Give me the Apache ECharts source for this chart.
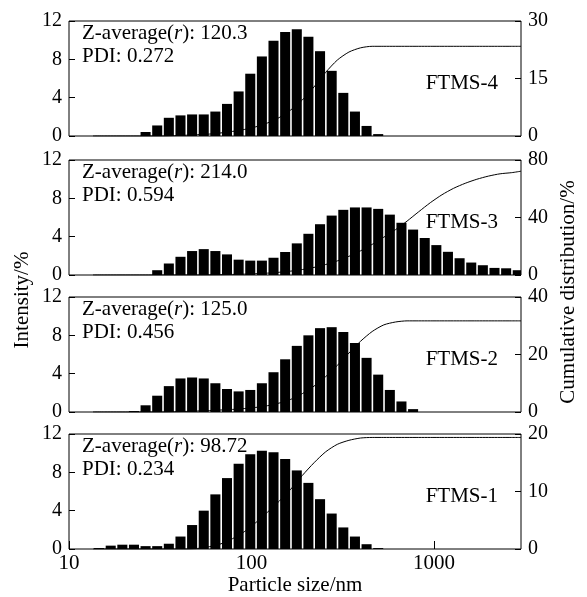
<!DOCTYPE html>
<html>
<head>
<meta charset="utf-8">
<script src="https://cdn.jsdelivr.net/npm/echarts@6/dist/echarts.min.js"></script>
<style>
  html, body { margin: 0; padding: 0; background: #fff; }
  #chart { width: 587px; height: 597px; }
</style>
</head>
<body>
<div id="chart"></div>
<script>
// ---- data ----
// bin sizes (nm), intensity bins of the DLS instrument
const sizes = [13.54, 15.69, 18.17, 21.04, 24.36, 28.21, 32.67, 37.84, 43.82, 50.75,
               58.77, 68.06, 78.82, 91.28, 105.7, 122.4, 141.8, 164.2, 190.1, 220.2,
               255.0, 295.3, 342.0, 396.1, 458.7, 531.2, 615.1, 712.4, 825.0, 955.4,
               1106, 1281, 1484, 1718, 1990, 2305, 2669];
// x positions of the cumulative curves (bins + right end of the axis)
const cumX = sizes.concat([3000]);

const samples = ['FTMS-4', 'FTMS-3', 'FTMS-2', 'FTMS-1'];
const zAverage = ['120.3', '214.0', '125.0', '98.72'];
const pdi = ['0.272', '0.594', '0.456', '0.234'];

const intensity4 = [0, 0, 0, 0, 0.42, 1.1, 1.9, 2.15, 2.25, 2.25,
                    2.55, 3.35, 4.65, 6.5, 8.3, 9.95, 10.85, 11.15, 10.35, 8.85,
                    6.8, 4.5, 2.55, 1.05, 0.2, 0, 0, 0, 0, 0,
                    0, 0, 0, 0, 0, 0, 0];
const intensity3 = [0, 0, 0, 0, 0, 0.5, 1.2, 1.9, 2.5, 2.7,
                    2.5, 2.15, 1.6, 1.5, 1.5, 1.8, 2.4, 3.3, 4.3, 5.3,
                    6.2, 6.8, 7.05, 7.05, 6.9, 6.3, 5.45, 4.74, 3.86, 3.12,
                    2.42, 1.75, 1.3, 1.02, 0.74, 0.7, 0.5];
const intensity2 = [0, 0, 0, 0.1, 0.7, 1.7, 2.7, 3.5, 3.6, 3.5,
                    3.0, 2.4, 2.15, 2.3, 3.0, 4.15, 5.5, 6.9, 8.0, 8.75,
                    8.85, 8.35, 7.2, 5.65, 3.9, 2.3, 1.1, 0.3, 0, 0,
                    0, 0, 0, 0, 0, 0, 0];
const intensity1 = [0.1, 0.35, 0.45, 0.45, 0.3, 0.3, 0.55, 1.3, 2.5, 4.0,
                    5.7, 7.4, 8.9, 9.9, 10.25, 10.1, 9.4, 8.2, 6.9, 5.2,
                    3.7, 2.25, 1.3, 0.5, 0.1, 0, 0, 0, 0, 0,
                    0, 0, 0, 0, 0, 0, 0];

const cumulative4 = [0, 0, 0, 0, 0, 0, 0, 0.1, 0.2, 0.35,
                     0.5, 0.8, 1.2, 1.7, 2.4, 3.4, 4.8, 6.8, 9.4, 12.8,
                     16.6, 19.8, 21.9, 23.0, 23.4, 23.4, 23.4, 23.4, 23.4, 23.4,
                     23.4, 23.4, 23.4, 23.4, 23.4, 23.4, 23.4, 23.4];
const cumulative3 = [0, 0, 0, 0, 0, 0, 0, 0, 0, 0,
                     0.1, 0.2, 0.4, 0.6, 0.9, 1.3, 1.9, 2.7, 3.8, 5.3,
                     7.3, 9.8, 13.0, 16.8, 21.3, 26.3, 31.5, 37.5, 44.0, 50.3,
                     55.8, 60.3, 63.8, 66.6, 68.8, 70.4, 71.2, 72.2];
const cumulative2 = [0, 0, 0, 0, 0, 0, 0, 0.1, 0.2, 0.35,
                     0.5, 0.7, 0.9, 1.2, 1.6, 2.2, 3.1, 4.4, 6.4, 9.0,
                     12.3, 16.2, 20.5, 24.6, 28.0, 30.3, 31.3, 31.7, 31.7, 31.7,
                     31.7, 31.7, 31.7, 31.7, 31.7, 31.7, 31.7, 31.7];
const cumulative1 = [0, 0, 0, 0, 0, 0, 0, 0, 0, 0.1,
                     0.4, 0.9, 1.8, 3.0, 4.6, 6.4, 8.3, 10.4, 12.8, 15.0,
                     16.9, 18.2, 18.9, 19.3, 19.4, 19.4, 19.4, 19.4, 19.4, 19.4,
                     19.4, 19.4, 19.4, 19.4, 19.4, 19.4, 19.4, 19.4];

const intensities = [intensity4, intensity3, intensity2, intensity1];
const cumulatives = [cumulative4, cumulative3, cumulative2, cumulative1];

const leftMax = 12, leftStep = 4;
const rightMax = [30, 80, 40, 20];
const rightStep = [15, 40, 20, 10];
const xTicks = [10, 100, 1000];

// ---- layout ----
const FONT = 'Liberation Serif';
const panelTop = [21, 160, 297, 434];
const panelHeight = 115;
const gridLeft = 69, gridRight = 66;
const binRatio = sizes[1] / sizes[0];

function barItem(params, api) {
    const x = api.value(0), v = api.value(1);
    if (!v) return null;
    const top = api.coord([x, v]);
    const base = api.coord([x, 0]);
    const next = api.coord([x * binRatio, 0]);
    const w = (next[0] - base[0]) * 0.86;
    return {
        type: 'rect',
        shape: { x: base[0] + 1, y: top[1], width: w, height: base[1] - top[1] },
        style: { fill: '#000' }
    };
}

const grids = [], xAxes = [], yAxes = [], series = [], graphics = [];

panelTop.forEach((top, i) => {
    const last = i === panelTop.length - 1;
    grids.push({
        left: gridLeft, right: gridRight, top: top, height: panelHeight,
        containLabel: false, outerBoundsMode: 'none',
        show: true, borderColor: '#000', borderWidth: 1, backgroundColor: 'transparent'
    });
    xAxes.push({
        type: 'log', logBase: 10, gridIndex: i, min: 10, max: 3000,
        axisLine: { show: false },
        axisTick: { show: last, inside: true, length: 8, lineStyle: { color: '#000' },
                    customValues: xTicks },
        axisLabel: { show: last, color: '#000', fontFamily: FONT, fontSize: 21, margin: 4,
                     customValues: xTicks, formatter: v => String(Math.round(v)) },
        minorTick: { show: false },
        splitLine: { show: false },
        name: last ? 'Particle size/nm' : '',
        nameLocation: 'middle', nameGap: 25,
        nameTextStyle: { color: '#000', fontFamily: FONT, fontSize: 21 }
    });
    yAxes.push({
        type: 'value', gridIndex: i, min: 0, max: leftMax, interval: leftStep,
        axisLine: { show: false },
        axisTick: { show: true, inside: true, length: 6, lineStyle: { color: '#000' } },
        axisLabel: { color: '#000', fontFamily: FONT, fontSize: 20, margin: 7 },
        splitLine: { show: false }
    });
    yAxes.push({
        type: 'value', gridIndex: i, position: 'right',
        min: 0, max: rightMax[i], interval: rightStep[i],
        axisLine: { show: false },
        axisTick: { show: true, inside: true, length: 6, lineStyle: { color: '#000' } },
        axisLabel: { color: '#000', fontFamily: FONT, fontSize: 20, margin: 7 },
        splitLine: { show: false }
    });
    series.push({
        type: 'custom', name: samples[i] + ' intensity',
        xAxisIndex: i, yAxisIndex: 2 * i,
        renderItem: barItem,
        data: sizes.map((s, k) => [s, intensities[i][k]]),
        clip: true, z: 2
    });
    series.push({
        type: 'line', name: samples[i] + ' cumulative',
        xAxisIndex: i, yAxisIndex: 2 * i + 1,
        data: cumX.map((s, k) => [s, cumulatives[i][k]]),
        smooth: 0.25,
        showSymbol: false, symbol: 'none',
        lineStyle: { color: '#000', width: 1 },
        z: 3
    });
    graphics.push({
        type: 'text', left: 82, top: top + 2,
        style: {
            text: '{a|Z-average(}{i|r}{a|): ' + zAverage[i] + '}',
            rich: {
                a: { fontFamily: FONT, fontSize: 21, fill: '#000' },
                i: { fontFamily: FONT, fontSize: 21, fontStyle: 'italic', fill: '#000' }
            }
        }
    });
    graphics.push({
        type: 'text', left: 82, top: top + 25,
        style: { text: 'PDI: ' + pdi[i], fontFamily: FONT, fontSize: 21, fill: '#000' }
    });
    graphics.push({
        type: 'text', right: 89, top: top + 52,
        style: { text: samples[i], fontFamily: FONT, fontSize: 21, fill: '#000' }
    });
});

graphics.push({
    type: 'text', x: 22, y: 300, rotation: Math.PI / 2,
    style: { text: 'Intensity/%', fontFamily: FONT, fontSize: 21, fill: '#000',
             align: 'center', verticalAlign: 'middle' }
});
graphics.push({
    type: 'text', x: 568, y: 292, rotation: Math.PI / 2,
    style: { text: 'Cumulative distribution/%', fontFamily: FONT, fontSize: 21, fill: '#000',
             align: 'center', verticalAlign: 'middle' }
});

const chart = echarts.init(document.getElementById('chart'), null, { renderer: 'canvas' });
chart.setOption({
    animation: false,
    backgroundColor: '#fff',
    grid: grids,
    xAxis: xAxes,
    yAxis: yAxes,
    series: series,
    graphic: graphics
});
</script>
</body>
</html>
